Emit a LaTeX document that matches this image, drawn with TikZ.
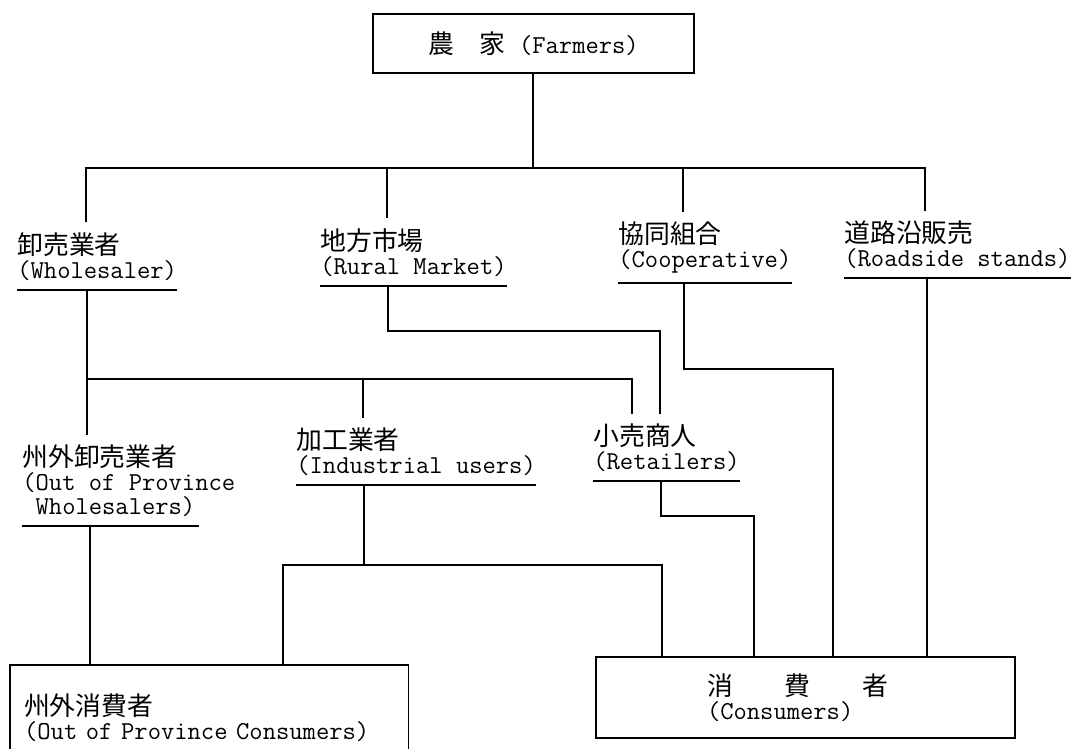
\documentclass[tikz,border=0pt]{standalone}
\usepackage{fontspec}
\newfontfamily\cjk{Noto Sans CJK JP}
\newcommand\partyfont{\ttfamily\fontsize{14.7}{13.6}\selectfont}
\tikzstyle{party}=[anchor=south west,align=left,inner xsep=0pt,inner ysep=1.9mm,font=\partyfont]
\tikzstyle{boxnode}=[draw,line width=0.7pt,align=left,inner sep=0pt,font=\partyfont]
\tikzstyle{link} = [draw,line width=0.7pt]
\tikzstyle{uline} = [draw,line width=0.6pt]

\begin{document}
\begin{tikzpicture}[x=0.2mm,y=-0.2mm]
    \useasboundingbox (0,0) rectangle (1074,749);
    \coordinate (pagebottom) at (0,749);

    % top and bottom boxes
    \node[boxnode,minimum width=64.2mm,minimum height=11.8mm] (farmers) at (533.5,43.5) {{\cjk 農　家} (Farmers)};
    \node[boxnode,inner xsep=22.2mm,text width=39.4mm,minimum height=16.2mm] (consumer) at (805.5,697.5) {{\cjk 消　　費　　者}\\(Consumers)};
    \node[boxnode,draw=none,anchor=north west,inner xsep=2.7mm,inner ysep=5.6mm,text width=74mm] (oconsumer) at (10,665) {{\cjk 州外消費者}\\(Out of Province Consumers)};
    \draw[link] (oconsumer.north west |- pagebottom) |- (oconsumer.north east) -- (oconsumer.north east |- pagebottom);

    % underlined parties
    \foreach \pos/\name/\txt in {{(17,290)/whole/{{\cjk 卸売業者}\\(Wholesaler)}},
                                 {(320,286)/rural/{{\cjk 地方市場}\\(Rural Market)}},
                                 {(618,283)/coop/{{\cjk 協同組合}\\(Cooperative)}},
                                 {(844,278)/road/{{\cjk 道路沿販売}\\(Roadside stands)}},
                                 {(22,526)/owhole/{{\cjk 州外卸売業者}\\(Out of Province\\~Wholesalers)}},
                                 {(296,485)/indus/{{\cjk 加工業者}\\(Industrial users)}},
                                 {(593,481)/retail/{{\cjk 小売商人}\\(Retailers)}}}
        \node[party] (\name) at \pos {\txt};

    \foreach \name in {whole,rural,coop,road,indus,retail}
        \path[uline] (\name.south west) -- (\name.south east);
    \path[uline] (owhole.south west) -- ++(177,0);

    % connectors: source/x at source/target/x at target/y of the bend
    \foreach \src/\sx/\dst/\dx/\y in {farmers/533/whole/86/168, farmers/533/rural/387/168,
                                      farmers/533/coop/683/168, farmers/533/road/925/168,
                                      whole/87/owhole/87/379, whole/87/indus/363/379,
                                      whole/87/retail/632/379, rural/388/retail/660/331,
                                      coop/684/consumer/833/369, road/927/consumer/927/400,
                                      owhole/90/oconsumer/90/600, indus/364/oconsumer/283/565,
                                      indus/364/consumer/662/565, retail/661/consumer/754/516}
        \path[link] (\sx,0 |- \src.south) |- (\dx,\y) -- (\dx,0 |- \dst.north);

\end{tikzpicture}
\end{document}
